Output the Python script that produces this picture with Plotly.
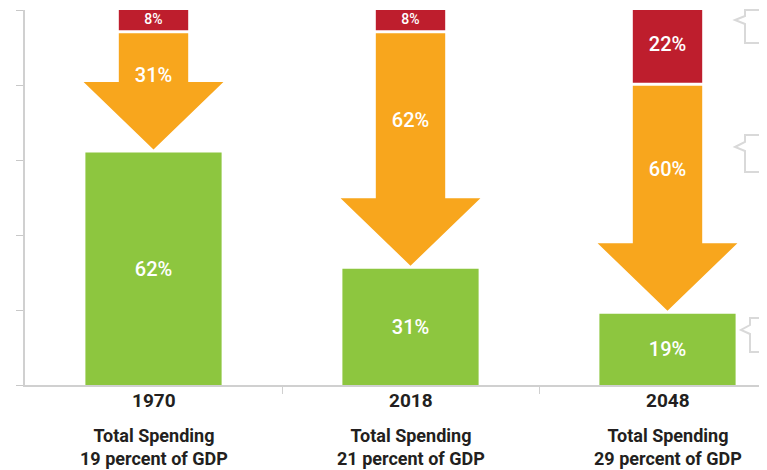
import plotly.graph_objects as go

years = ["1970", "2018", "2048"]
spending = ["19", "21", "29"]
green = [62, 31, 19]
orange = [31, 62, 60]
red = [8, 8, 22]

GREEN = "#8DC63F"
ORANGE = "#F8A61D"
RED = "#BE1E2D"
FONT = "Roboto, Lato, sans-serif"

gap = 0.8
head = 18
body_w = 0.135
head_w = 0.272

idx = list(range(len(years)))
arrow_top = [g + gap + o for g, o in zip(green, orange)]
red_base = [t + gap for t in arrow_top]

fig = go.Figure()

fig.add_trace(go.Bar(
    x=idx, y=green, width=0.53, marker=dict(color=GREEN, line=dict(width=0)),
    text=[f"{v}%" for v in green], textposition="inside", insidetextanchor="middle",
    textfont=dict(color="white", size=20, family=FONT, weight=500), hoverinfo="skip",
))

fig.add_trace(go.Bar(
    x=idx, y=red, base=red_base, width=0.27, marker=dict(color=RED, line=dict(width=0)),
    hoverinfo="skip",
))

# arrows
ax, ay = [], []
for i, g, o in zip(idx, green, orange):
    tip = g + gap
    top = tip + o
    neck = tip + head
    ax += [i - body_w, i + body_w, i + body_w, i + head_w, i, i - head_w, i - body_w, i - body_w, None]
    ay += [top, top, neck, neck, tip, neck, neck, top, None]
fig.add_trace(go.Scatter(
    x=ax, y=ay, mode="lines", fill="toself", fillcolor=ORANGE,
    line=dict(width=0, color=ORANGE), hoverinfo="skip",
))

# labels for arrows and red bars
fig.add_trace(go.Scatter(
    x=idx, y=[t - 0.38 * o for t, o in zip(arrow_top, orange)], mode="text",
    text=[f"{v}%" for v in orange], textfont=dict(color="white", size=20, family=FONT, weight=500),
    hoverinfo="skip",
))
fig.add_trace(go.Scatter(
    x=idx, y=[(b + 100) / 2 if b + r > 100 else b + r / 2 for b, r in zip(red_base, red)],
    mode="text", text=[f"{v}%" for v in red],
    textfont=dict(color="white", size=[14, 14, 20], family=FONT, weight=500), hoverinfo="skip",
))

# the page body has an 8px margin, so the plot area is placed with that in mind
W, H = 767, 470
OFF = 8
PL, PT, PB, PR = 25, 10, 385, 775


def paper(x, y):
    return (x - PL) / (PR - PL), (PB - y) / (PB - PT)


for i, (yr, sp) in enumerate(zip(years, spending)):
    fig.add_annotation(x=i, y=paper(0, 400)[1], xref="x", yref="paper", text=yr,
                       yanchor="middle", showarrow=False,
                       font=dict(size=19, color="#231F20", family=FONT, weight="bold"))
    fig.add_annotation(x=i, y=paper(0, 447)[1], xref="x", yref="paper",
                       text=f"Total Spending<br>{sp} percent of GDP", yanchor="middle",
                       showarrow=False, font=dict(size=18, color="#231F20", family=FONT, weight="bold"))

# cut-off callout brackets on the right edge
brackets = [
    [(780, 10), (745, 10), (745, 16), (735, 20), (745, 24), (745, 43), (780, 43)],
    [(780, 135), (745, 135), (745, 142), (735, 147), (745, 151), (745, 172), (780, 172)],
    [(780, 318), (750, 318), (750, 325), (741, 330), (750, 334), (750, 352), (780, 352)],
]
for pts in brackets:
    path = ""
    for k, (x, y) in enumerate(pts):
        xx, yy = paper(x, y)
        path += ("M" if k == 0 else "L") + f"{xx},{yy} "
    fig.add_shape(type="path", path=path, xref="paper", yref="paper",
                  line=dict(color="#D9D9D9", width=2))

fig.update_layout(
    width=W, height=H, barmode="overlay", showlegend=False,
    paper_bgcolor="white", plot_bgcolor="white",
    margin=dict(l=PL - OFF, r=W + OFF - PR, t=PT - OFF, b=H + OFF - PB),
    xaxis=dict(range=[-0.5, -0.5 + (PR - PL) / 257], tickvals=[0.5, 1.5], showticklabels=False,
               ticks="outside", ticklen=7, tickcolor="#D0D0D0", showgrid=False, zeroline=False,
               showline=True, linecolor="#D0D0D0", linewidth=2),
    yaxis=dict(range=[0, 100], tickvals=[0, 20, 40, 60, 80, 100], showticklabels=False,
               ticks="outside", ticklen=7, tickcolor="#C8C8C8", showgrid=False, zeroline=False,
               showline=True, linecolor="#D0D0D0", linewidth=2),
)

fig.write_html("out.html")
